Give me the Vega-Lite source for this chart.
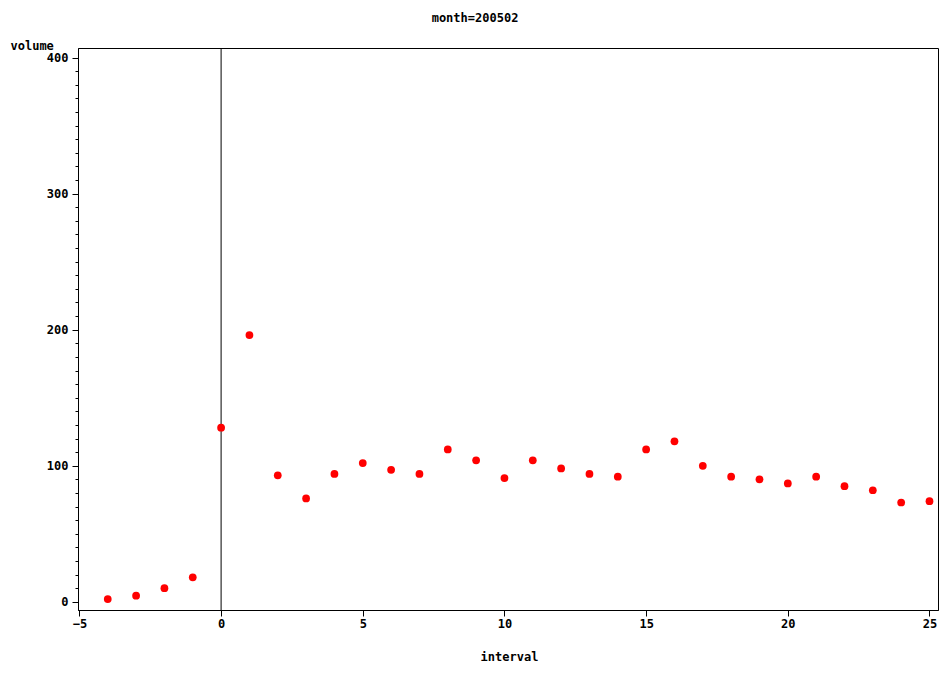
{
  "$schema": "https://vega.github.io/schema/vega-lite/v6.json",
  "width": 860,
  "height": 562,
  "autosize": "none",
  "padding": {"left": 78, "top": 48, "right": 5, "bottom": 65},
  "background": "white",
  "title": {"text": "month=200502", "font": "DejaVu Sans Mono", "fontSize": 12, "fontWeight": "bold", "color": "black", "offset": 14, "anchor": "middle", "dx": -33},
  "data": {"values": [
    {"interval": -4, "volume": 2}, {"interval": -3, "volume": 4.5}, {"interval": -2, "volume": 10},
    {"interval": -1, "volume": 18}, {"interval": 0, "volume": 128}, {"interval": 1, "volume": 196},
    {"interval": 2, "volume": 93}, {"interval": 3, "volume": 76}, {"interval": 4, "volume": 94},
    {"interval": 5, "volume": 102}, {"interval": 6, "volume": 97}, {"interval": 7, "volume": 94},
    {"interval": 8, "volume": 112}, {"interval": 9, "volume": 104}, {"interval": 10, "volume": 91},
    {"interval": 11, "volume": 104}, {"interval": 12, "volume": 98}, {"interval": 13, "volume": 94},
    {"interval": 14, "volume": 92}, {"interval": 15, "volume": 112}, {"interval": 16, "volume": 118},
    {"interval": 17, "volume": 100}, {"interval": 18, "volume": 92}, {"interval": 19, "volume": 90},
    {"interval": 20, "volume": 87}, {"interval": 21, "volume": 92}, {"interval": 22, "volume": 85},
    {"interval": 23, "volume": 82}, {"interval": 24, "volume": 73}, {"interval": 25, "volume": 74}
  ]},
  "layer": [
    {
      "mark": {"type": "rule", "color": "black", "strokeWidth": 1, "opacity": 1},
      "data": {"values": [{"x": 0}]},
      "encoding": {"x": {"field": "x", "type": "quantitative"}}
    },
    {
      "mark": {"type": "circle", "color": "red", "opacity": 1, "size": 60},
      "encoding": {
        "x": {"field": "interval", "type": "quantitative", "scale": {"domain": [-5.05, 25.3], "nice": false, "zero": false},
          "axis": {"values": [-5, 0, 5, 10, 15, 20, 25], "title": "interval", "titlePadding": 22, "titleX": 431}},
        "y": {"field": "volume", "type": "quantitative", "scale": {"domain": [-6, 407], "nice": false},
          "axis": {
            "values": [0,10,20,30,40,50,60,70,80,90,100,110,120,130,140,150,160,170,180,190,200,210,220,230,240,250,260,270,280,290,300,310,320,330,340,350,360,370,380,390,400],
            "labelExpr": "datum.value % 100 == 0 ? datum.label : ''",
            "tickSize": {"condition": {"test": "datum.value % 100 == 0", "value": 6}, "value": 3},
            "labelPadding": 4,
            "title": "volume", "titleAngle": 0, "titleX": -68, "titleY": -3, "titleAlign": "left", "titleBaseline": "middle"}}
      }
    }
  ],
  "config": {
    "view": {"stroke": "black", "strokeWidth": 1},
    "axis": {
      "grid": false, "domainColor": "black", "tickColor": "black", "tickSize": 6,
      "labelFont": "DejaVu Sans Mono", "labelFontSize": 12, "labelFontWeight": "bold", "labelColor": "black",
      "titleFont": "DejaVu Sans Mono", "titleFontSize": 12, "titleFontWeight": "bold", "titleColor": "black"
    }
  }
}
